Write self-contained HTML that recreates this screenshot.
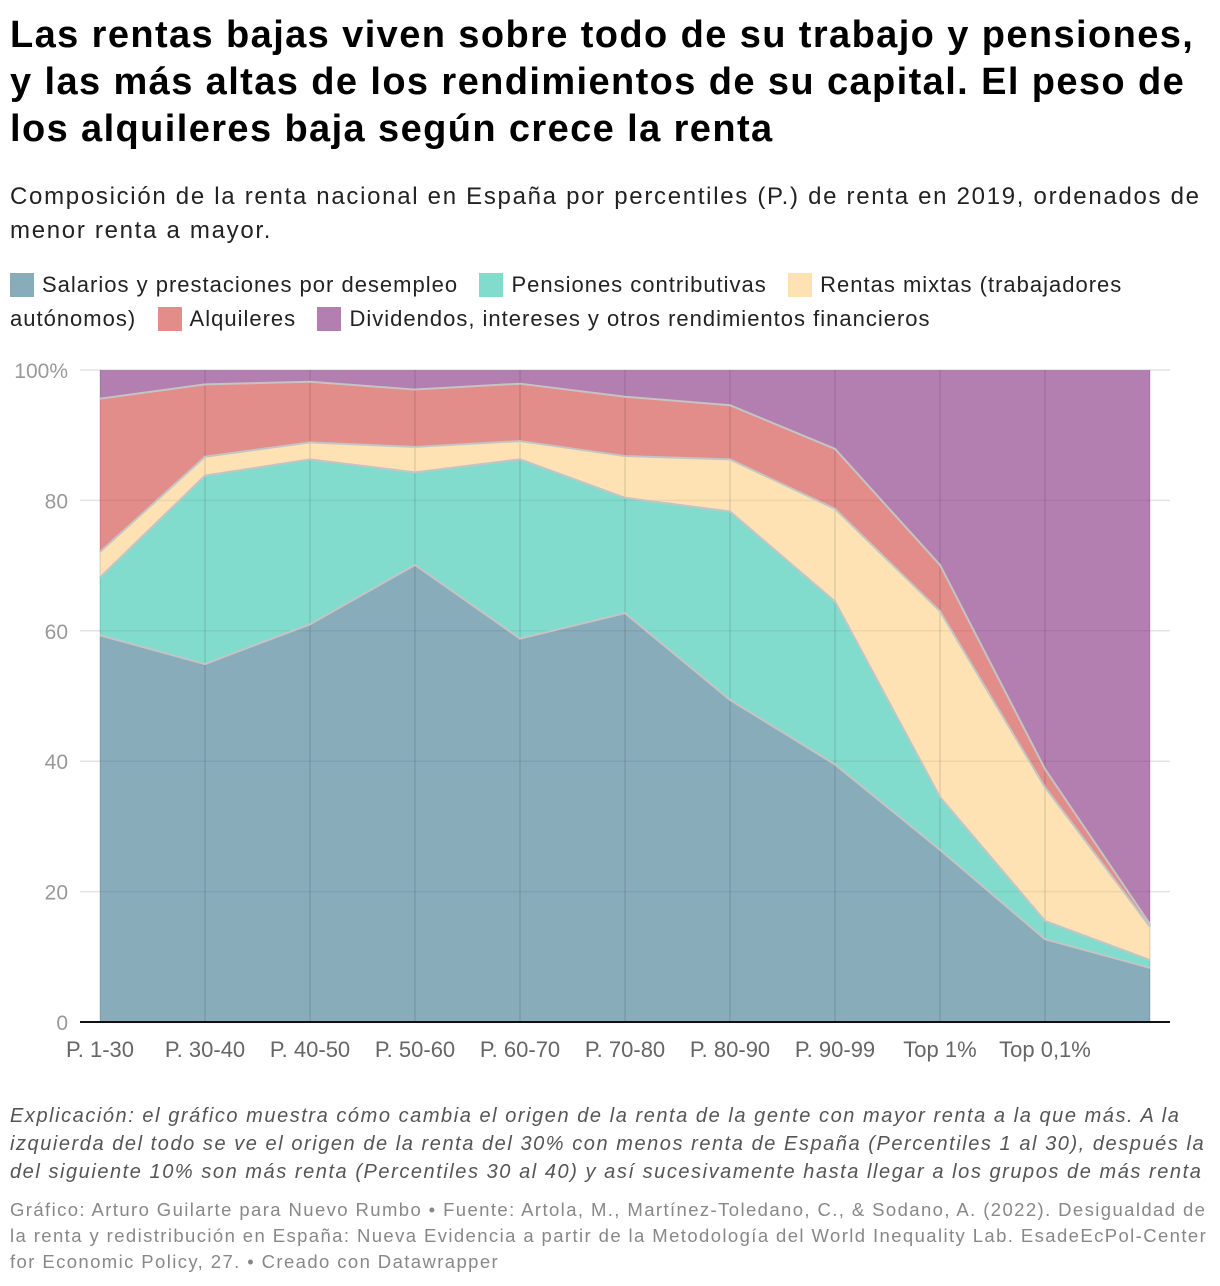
<!DOCTYPE html>
<html><head><meta charset="utf-8"><style>
body{margin:0;background:#fff;width:1220px;height:1286px;overflow:hidden;font-family:"Liberation Sans",sans-serif;}
.t{position:absolute;left:10px;margin:0;white-space:nowrap}
h1{position:absolute;left:10px;top:12px;margin:0;font-size:38px;line-height:47px;font-weight:bold;color:#000;white-space:nowrap;letter-spacing:1.4px}
.sub{top:180px;font-size:24px;line-height:34px;color:#222;letter-spacing:1.7px}
.leg{top:268px;font-size:22px;line-height:34px;color:#222;letter-spacing:1.0px}
.sw{display:inline-block;width:24px;height:24px;vertical-align:-5px;margin-right:8px}
.note{top:1102px;font-size:20px;line-height:28px;color:#555;font-style:italic;letter-spacing:1.55px}
.foot{top:1197px;font-size:18.5px;line-height:26px;color:#888;letter-spacing:1.4px}
</style></head><body>
<h1>Las rentas bajas viven sobre todo de su trabajo y pensiones,<br>y las más altas de los rendimientos de su capital. El peso de<br>los alquileres baja según crece la renta</h1>
<p class="t sub">Composición de la renta nacional en España por percentiles (P.) de renta en 2019, ordenados de<br>menor renta a mayor.</p>
<p class="t leg"><span><span class="sw" style="background:#89acbb"></span>Salarios y prestaciones por desempleo</span>&nbsp;&nbsp; <span><span class="sw" style="background:#82dccd"></span>Pensiones contributivas</span>&nbsp;&nbsp; <span><span class="sw" style="background:#fee2b4"></span>Rentas mixtas (trabajadores<br>autónomos)</span>&nbsp;&nbsp; <span><span class="sw" style="background:#e28d8a"></span>Alquileres</span>&nbsp;&nbsp; <span><span class="sw" style="background:#b37fb1"></span>Dividendos, intereses y otros rendimientos financieros</span></p>
<svg id="chart" style="position:absolute;left:0;top:0" width="1220" height="1090"></svg>
<p class="t note">Explicación: el gráfico muestra cómo cambia el origen de la renta de la gente con mayor renta a la que más. A la<br>izquierda del todo se ve el origen de la renta del 30% con menos renta de España (Percentiles 1 al 30), después la<br>del siguiente 10% son más renta (Percentiles 30 al 40) y así sucesivamente hasta llegar a los grupos de más renta</p>
<p class="t foot">Gráfico: Arturo Guilarte para Nuevo Rumbo • Fuente: Artola, M., Martínez-Toledano, C., &amp; Sodano, A. (2022). Desigualdad de<br>la renta y redistribución en España: Nueva Evidencia a partir de la Metodología del World Inequality Lab. EsadeEcPol-Center<br>for Economic Policy, 27. • Creado con Datawrapper</p>
<script>
const categories=["P. 1-30","P. 30-40","P. 40-50","P. 50-60","P. 60-70","P. 70-80","P. 80-90","P. 90-99","Top 1%","Top 0,1%",""];
const salarios=[59.3,54.9,61.0,70.1,58.8,62.7,49.4,39.5,26.4,12.7,8.3];
const pensiones=[8.9,28.9,25.3,14.2,27.5,17.7,28.9,25.0,8.1,2.8,1.2];
const mixtas=[3.9,2.9,2.6,3.9,2.8,6.4,8.0,14.2,28.5,20.5,5.1];
const alquileres=[23.5,11.1,9.3,8.8,8.8,9.1,8.3,9.2,7.1,2.8,0.4];
const yTicks=[0,20,40,60,80,100];
const svg=document.getElementById('chart');const NS='http://www.w3.org/2000/svg';
const X0=100,X1=1150,Y0=1022,Y1=370;
const x=i=>X0+(X1-X0)*i/(categories.length-1);
const y=v=>Y0-(Y0-Y1)*v/100;
function mk(t,a){const e=document.createElementNS(NS,t);for(const k in a)e.setAttribute(k,a[k]);svg.appendChild(e);return e;}
yTicks.forEach(v=>{const l=mk('line',{x1:80,x2:1170,y1:y(v),y2:y(v),stroke:'#e3e3e3','stroke-width':1.5});

const t=mk('text',{x:68,y:y(v)+8,'text-anchor':'end','font-size':21,fill:'#999','font-family':'Liberation Sans, sans-serif'});t.textContent=v===100?'100%':v;
});
const series=[salarios,pensiones,mixtas,alquileres];const names=['salarios','pensiones','mixtas','alquileres','dividendos'];
const colors=['#89acbb','#82dccd','#fee2b4','#e28d8a','#b37fb1'];
const n=categories.length;let base=new Array(n).fill(0);const tops=[];
series.forEach(s=>{const t=base.map((b,i)=>b+s[i]);tops.push({lo:base,hi:t});base=t;});
tops.push({lo:base,hi:new Array(n).fill(100)});
tops.forEach((o,k)=>{let d='';for(let i=0;i<n;i++)d+=(i?'L':'M')+x(i)+','+y(o.hi[i]);for(let i=n-1;i>=0;i--)d+='L'+x(i)+','+y(o.lo[i]);
const p=mk('path',{d:d+'Z',fill:colors[k]});});
for(let i=0;i<n;i++){const l=mk('line',{x1:x(i),x2:x(i),y1:Y1,y2:Y0,stroke:'rgba(0,0,0,0.08)','stroke-width':2});}
yTicks.slice(1,5).forEach(v=>{const l=mk('line',{x1:X0,x2:X1,y1:y(v),y2:y(v),stroke:'rgba(0,0,0,0.06)','stroke-width':1.5});});
tops.slice(0,4).forEach((o,k)=>{let d='';for(let i=0;i<n;i++)d+=(i?'L':'M')+x(i)+','+y(o.hi[i]);
const p=mk('path',{d:d,fill:'none',stroke:'#c4c4c4','stroke-width':2});});
const ax=mk('line',{x1:80,x2:1170,y1:Y0,y2:Y0,stroke:'#111','stroke-width':2});
categories.forEach((c,i)=>{if(!c)return;const t=mk('text',{x:x(i),y:1057,'text-anchor':'middle','font-size':22,fill:'#666','font-family':'Liberation Sans, sans-serif'});t.textContent=c;
});
</script>
</body></html>
